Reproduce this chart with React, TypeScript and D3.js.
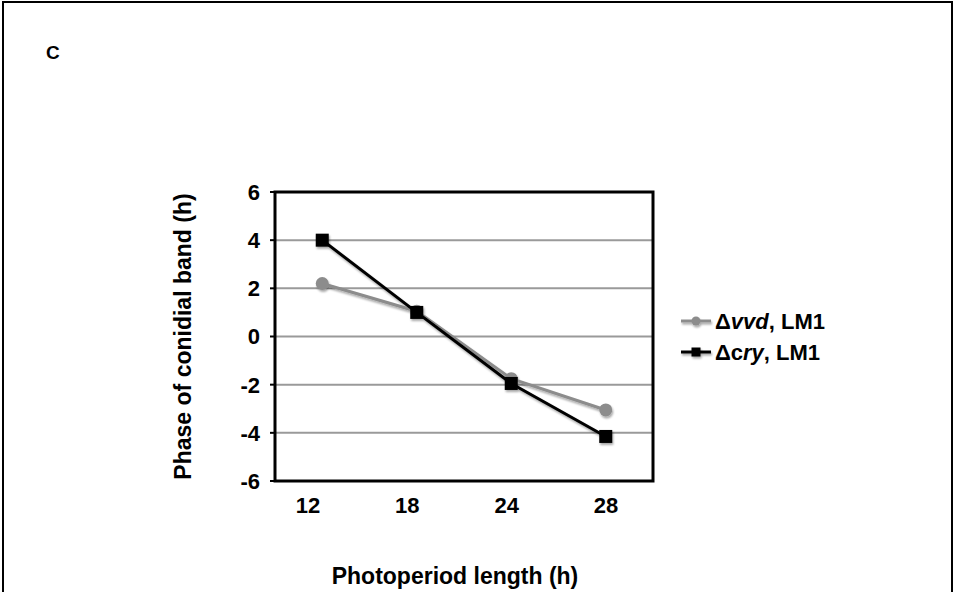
import React from "react";
import * as d3 from "d3";

const categories = ["12", "18", "24", "28"];
const vvdValues = [2.2, 1.05, -1.75, -3.05];
const cryValues = [4.0, 1.0, -1.95, -4.15];
const yTicks = [6, 4, 2, 0, -2, -4, -6];

const W = 955;
const H = 592;
const plot = { left: 275, right: 653, top: 192, bottom: 481 };
const FONT = "'Liberation Sans', Arial, sans-serif";

export default function App() {
  const x = d3.scaleBand().domain(categories).range([plot.left, plot.right]);
  const xLabel = d3.scalePoint().domain(categories).range([plot.left + 33, plot.right - 47]);
  const y = d3.scaleLinear().domain([-6, 6]).range([plot.bottom, plot.top]);
  const cx = (c: string) => (x(c) as number) + x.bandwidth() / 2;
  const line = d3
    .line<number>()
    .x((_, i) => cx(categories[i]))
    .y((d) => y(d));

  return (
    <div style={{ position: "absolute", left: 0, top: 0 }}>
      <svg width={W} height={H} style={{ display: "block" }} fontFamily={FONT}>
        <defs>
          <filter id="sh" x="-20%" y="-20%" width="140%" height="140%">
            <feGaussianBlur in="SourceAlpha" stdDeviation="1.2" />
            <feOffset dx="1" dy="1.5" result="b" />
            <feComponentTransfer>
              <feFuncA type="linear" slope="0.35" />
            </feComponentTransfer>
            <feMerge>
              <feMergeNode />
              <feMergeNode in="SourceGraphic" />
            </feMerge>
          </filter>
        </defs>
        <rect width={W} height={H} fill="#fff" />
        {/* outer frame */}
        <line x1={3} x2={952} y1={2} y2={2} stroke="#000" strokeWidth={2} />
        <line x1={3} x2={3} y1={1} y2={H} stroke="#000" strokeWidth={2} />
        <line x1={952} x2={952} y1={1} y2={H} stroke="#000" strokeWidth={2} />
        <text x={46} y={59} fontSize={19} fontWeight="bold">C</text>

        {/* gridlines */}
        {yTicks.filter((t) => t !== 6 && t !== -6).map((t) => (
          <line key={t} x1={plot.left} x2={plot.right} y1={y(t)} y2={y(t)} stroke="#9a9a9a" strokeWidth={2} />
        ))}
        {/* ticks & labels */}
        {yTicks.map((t) => (
          <g key={"t" + t}>
            <line x1={plot.left - 5} x2={plot.left} y1={y(t)} y2={y(t)} stroke="#000" strokeWidth={2} />
            <text x={260} y={y(t)} dy="0.36em" textAnchor="end" fontSize={22} fontWeight="bold">{t}</text>
          </g>
        ))}
        <rect x={plot.left} y={plot.top} width={plot.right - plot.left} height={plot.bottom - plot.top} fill="none" stroke="#000" strokeWidth={3} />

        {categories.map((c) => (
          <text key={c} x={xLabel(c)} y={513} textAnchor="middle" fontSize={22} fontWeight="bold">{c}</text>
        ))}
        <text x={455} y={584} textAnchor="middle" fontSize={23} fontWeight="bold">Photoperiod length (h)</text>
        <text transform={`translate(191,${(plot.top + plot.bottom) / 2}) rotate(-90)`} textAnchor="middle" fontSize={23} fontWeight="bold">Phase of conidial band (h)</text>

        {/* series */}
        <g filter="url(#sh)">
          <path d={line(vvdValues) || ""} fill="none" stroke="#8c8c8c" strokeWidth={3} />
          {vvdValues.map((v, i) => (
            <circle key={i} cx={cx(categories[i])} cy={y(v)} r={6.5} fill="#8c8c8c" />
          ))}
          <path d={line(cryValues) || ""} fill="none" stroke="#000" strokeWidth={3} />
          {cryValues.map((v, i) => (
            <rect key={i} x={cx(categories[i]) - 6.5} y={y(v) - 6.5} width={13} height={13} fill="#000" />
          ))}
        </g>

        {/* legend */}
        <g filter="url(#sh)">
          <line x1={681} x2={711} y1={321} y2={321} stroke="#8c8c8c" strokeWidth={3} />
          <circle cx={696} cy={321} r={4.5} fill="#8c8c8c" />
          <line x1={681} x2={711} y1={352} y2={352} stroke="#000" strokeWidth={3} />
          <rect x={691.5} y={347.5} width={9} height={9} fill="#000" />
        </g>
        <text x={715} y={329} fontSize={22} fontWeight="bold">
          Δ<tspan fontStyle="italic">vvd</tspan>, LM1
        </text>
        <text x={715} y={360} fontSize={22} fontWeight="bold">
          Δc<tspan fontStyle="italic">ry</tspan>, LM1
        </text>
      </svg>
    </div>
  );
}
